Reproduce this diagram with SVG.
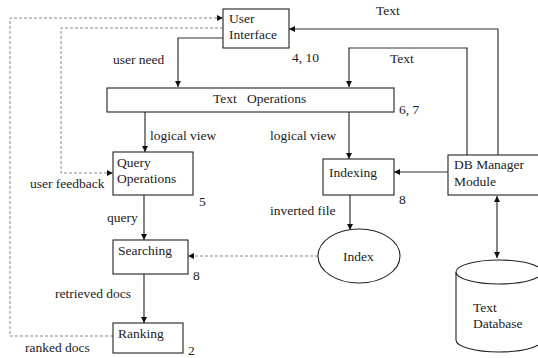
<svg xmlns="http://www.w3.org/2000/svg" width="538" height="358" viewBox="0 0 538 358" font-family="'Liberation Serif', 'DejaVu Serif', serif" font-size="13.5">
<defs>
<marker id="ah" viewBox="0 0 10 10" refX="10" refY="5" markerWidth="6" markerHeight="6" markerUnits="userSpaceOnUse" orient="auto"><path d="M0,0 L10,5 L0,10 z" fill="#111"/></marker>
<marker id="ahs" viewBox="0 0 10 10" refX="0" refY="5" markerWidth="6" markerHeight="6" markerUnits="userSpaceOnUse" orient="auto"><path d="M10,0 L0,5 L10,10 z" fill="#111"/></marker>
<style>
text{font-family:'Liberation Serif','DejaVu Serif',serif;font-size:13.5px;fill:#222}
.box{fill:#fff;stroke:#222;stroke-width:1.1}
.c{fill:none;stroke:#333;stroke-width:1.2}
.d{fill:none;stroke:#888;stroke-width:1;stroke-dasharray:3,2}
</style>
</defs>
<rect width="538" height="358" fill="#fff"/>
<g id="connectors">
<path class="c" d="M223,38 H178 V87" marker-end="url(#ah)"/>
<path class="c" d="M498,155 V29 H289" marker-end="url(#ah)"/>
<path class="c" d="M467,155 V48 H349 V87" marker-end="url(#ah)"/>
<path class="c" d="M145,112 V152" marker-end="url(#ah)"/>
<path class="c" d="M349,112 V159" marker-end="url(#ah)"/>
<path class="c" d="M448,172 H394" marker-end="url(#ah)"/>
<path class="c" d="M144,195 V240" marker-end="url(#ah)"/>
<path class="c" d="M350,195 V230" marker-end="url(#ah)"/>
<path class="c" d="M144,274 V323" marker-end="url(#ah)"/>
<path class="c" d="M497,196 V258" marker-start="url(#ahs)" marker-end="url(#ah)"/>
<path class="d" d="M318,256 H188" marker-end="url(#ah)"/>
<path class="d" d="M113,336 H10 V18 H223" marker-end="url(#ah)"/>
<path class="d" d="M223,28 H61 V173 H113" marker-end="url(#ah)"/>
</g>
<g id="user-interface">
<rect class="box" x="223" y="9" width="66" height="39"/>
<text x="229" y="23">User</text>
<text x="229" y="39">Interface</text>
<text x="292" y="62">4, 10</text>
</g>
<g id="text-operations">
<rect class="box" x="107" y="88" width="287" height="24"/>
<text x="213" y="103" xml:space="preserve">Text   Operations</text>
<text x="399" y="114">6, 7</text>
</g>
<g id="query-operations">
<rect class="box" x="113" y="152" width="80" height="43"/>
<text x="117" y="167">Query</text>
<text x="117" y="183">Operations</text>
<text x="199" y="206">5</text>
</g>
<g id="indexing">
<rect class="box" x="323" y="159" width="71" height="36"/>
<text x="329" y="177">Indexing</text>
<text x="399" y="204">8</text>
</g>
<g id="db-manager">
<rect class="box" x="448" y="155" width="95" height="40"/>
<text x="454" y="169">DB Manager</text>
<text x="454" y="186">Module</text>
</g>
<g id="searching">
<rect class="box" x="113" y="240" width="75" height="34"/>
<text x="118" y="255">Searching</text>
<text x="193" y="280">8</text>
</g>
<g id="index">
<ellipse class="box" cx="359" cy="256" rx="41" ry="27"/>
<text x="343" y="261">Index</text>
</g>
<g id="text-database">
<path class="box" d="M456,272 V340 A43,12 0 0 0 542,340 V272"/>
<ellipse class="box" cx="499" cy="272" rx="43" ry="12"/>
<text x="473" y="312">Text</text>
<text x="473" y="328">Database</text>
</g>
<g id="ranking">
<rect class="box" x="113" y="323" width="70" height="30"/>
<text x="118" y="338">Ranking</text>
<text x="188" y="355">2</text>
</g>
<g id="labels">
<text x="376" y="15">Text</text>
<text x="113" y="64">user need</text>
<text x="390" y="63">Text</text>
<text x="150" y="140">logical view</text>
<text x="270" y="140">logical view</text>
<text x="30" y="188">user feedback</text>
<text x="270" y="215">inverted file</text>
<text x="107" y="222">query</text>
<text x="55" y="298">retrieved docs</text>
<text x="25" y="352">ranked docs</text>
</g>
</svg>
